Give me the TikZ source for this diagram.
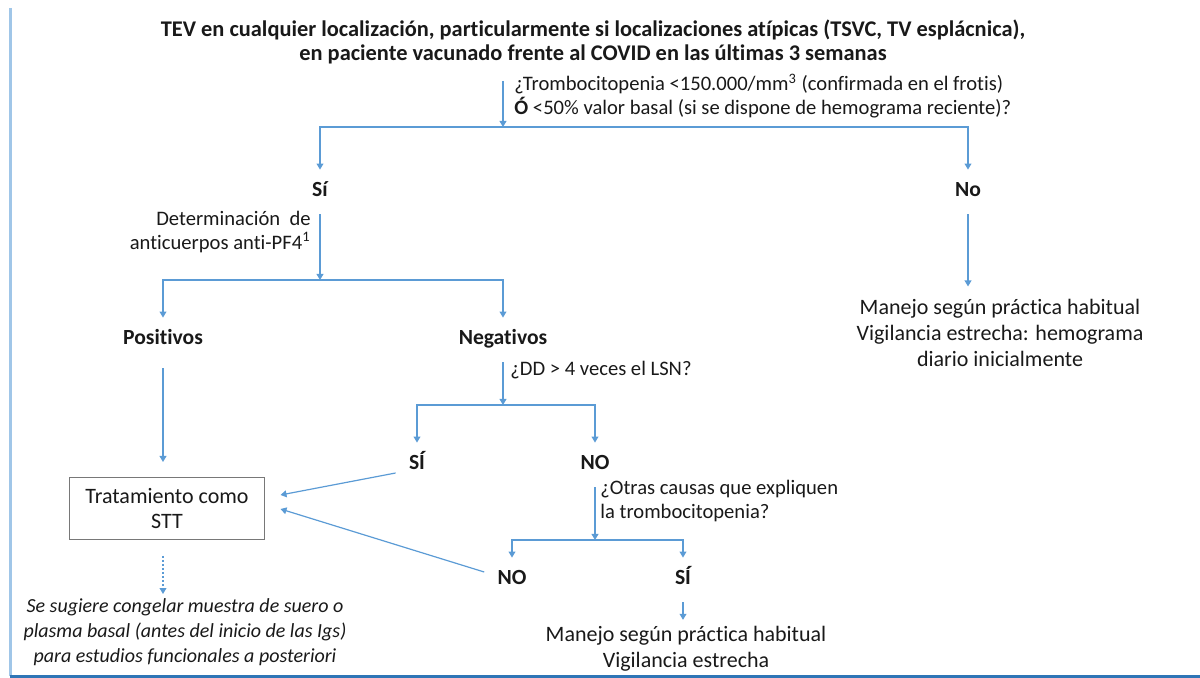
\documentclass[tikz,border=0pt]{standalone}
\usepackage{fontspec}
\setmainfont{Carlito}[Ligatures={NoCommon,NoContextual}, Contextuals={NoAlternate}]
\usetikzlibrary{arrows.meta}
\definecolor{FlowBlue}{RGB}{91,155,213}
\definecolor{FrameBlue}{RGB}{46,117,182}
\definecolor{FrameLight}{RGB}{160,198,232}
\definecolor{BoxGray}{RGB}{120,120,120}
\definecolor{InkDark}{RGB}{25,25,25}

\begin{document}
\begin{tikzpicture}[x=0.5pt, y=-0.5pt,
    arr/.style={-{Triangle[length=3pt,width=3.4pt]}, FlowBlue, line width=0.6pt},
    ttl/.style={font=\fontsize{11.2}{11.8}\selectfont\bfseries, text=InkDark, align=center},
    qtxt/.style={font=\fontsize{10.3}{11.6}\selectfont, text=InkDark, align=left, inner sep=0pt},
    lbl/.style={font=\fontsize{10.8}{12}\selectfont\bfseries, text=InkDark,
                text height=7pt, text depth=2pt, inner sep=6.5pt},
    res/.style={font=\fontsize{11}{13.2}\selectfont, text=InkDark, align=center, inner sep=6pt},
    tbox/.style={draw=BoxGray, line width=0.5pt, font=\fontsize{11}{12.5}\selectfont,
                 text=InkDark, align=center, minimum width=97.5pt, minimum height=31pt, outer sep=8pt},
    note/.style={font=\fontsize{10}{12.5}\selectfont\itshape, text=InkDark, align=center, inner sep=2pt}
  ]
  \useasboundingbox (0,0) rectangle (1200,678);

  % frame edges of the capture
  \draw[FrameLight, line width=1.5pt] (10,8) -- (10,676);
  \draw[FrameBlue, line width=1.5pt] (10,676) -- (1200,676);

  % first question
  \node[ttl] (tev) at (593,42)
        {TEV en cualquier localización, particularmente si localizaciones atípicas (TSVC, TV esplácnica),\\
         en paciente vacunado frente al COVID en las últimas 3 semanas};
  \coordinate (j1) at (503,127);
  \draw[arr, shorten <=5pt] (tev.south -| j1) -- (j1);
  \node[qtxt, anchor=west] (plaq) at (514,96)
        {¿Trombocitopenia <150.000/mm\textsuperscript{3} (confirmada en el frotis)\\
         \textbf{Ó} <50\% valor basal (si se dispone de hemograma reciente)?};

  \node[lbl] (si1) at (320,192) {Sí};
  \node[lbl] (no1) at (968,192) {No};
  \draw[arr] (j1) -| (si1);
  \draw[arr] (j1) -| (no1);

  % branch No
  \node[res] (habit1) at (1000,333)
        {Manejo según práctica habitual\\ Vigilancia estrecha: hemograma\\ diario inicialmente};
  \draw[arr] (no1) -- (no1 |- habit1.north);

  % branch Si: anti-PF4
  \node[qtxt, anchor=east, align=right] (pf4) at (311,232)
        {Determinación\ \ de\\ anticuerpos anti-PF4\textsuperscript{1}};
  \coordinate (j2) at (320,280);
  \draw[arr] (si1) -- (j2);
  \node[lbl] (pos) at (163,340) {Positivos};
  \node[lbl] (neg) at (503,340) {Negativos};
  \draw[arr] (j2) -| (pos);
  \draw[arr] (j2) -| (neg);

  \node[tbox] (stt) at (167,509) {Tratamiento como\\ STT};
  \draw[arr, shorten <=3pt] (pos) -- (pos |- stt.north);

  % D-dimer
  \node[qtxt, anchor=west] (dd) at (510,370) {¿DD > 4 veces el LSN?};
  \coordinate (j3) at (503,405);
  \draw[arr] (neg) -- (j3);
  \node[lbl] (si2) at (417,465) {SÍ};
  \node[lbl] (no2) at (595,465) {NO};
  \draw[arr] (j3) -| (si2);
  \draw[arr] (j3) -| (no2);
  \draw[arr] ([yshift=-4pt]si2.west) -- ([yshift=7pt]stt.east);

  % other causes
  \node[qtxt, anchor=west] (otras) at (600,501)
        {¿Otras causas que expliquen\\ la trombocitopenia?};
  \coordinate (j4) at (595,540);
  \draw[arr] (no2) -- (j4);
  \node[lbl] (no3) at (512,580) {NO};
  \node[lbl] (si3) at (683,580) {SÍ};
  \draw[arr] (j4) -| (no3);
  \draw[arr] (j4) -| (si3);
  \draw[arr] ([yshift=4pt]no3.west) -- (stt.east);

  \node[res, inner sep=3pt] (habit2) at (686,649)
        {Manejo según práctica habitual\\ Vigilancia estrecha};
  \draw[arr] (si3) -- (si3 |- habit2.north);

  % sample note
  \node[note] (suero) at (185,632)
        {Se sugiere congelar muestra de suero o\\
         plasma basal (antes del inicio de las Igs)\\
         para estudios funcionales a posteriori};
  \draw[arr, dash pattern=on 1pt off 1pt] (stt.south -| pos) -- (suero.north -| pos);
\end{tikzpicture}
\end{document}
